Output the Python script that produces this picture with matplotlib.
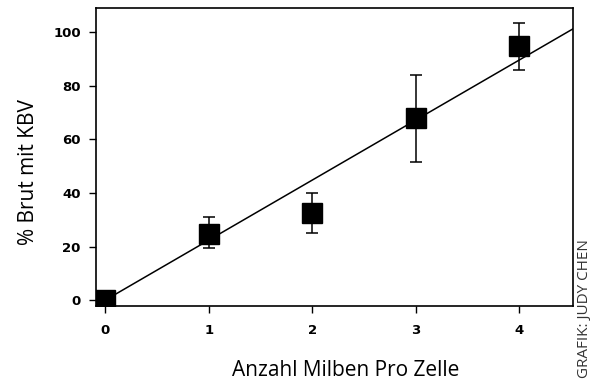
import numpy as np
import matplotlib.pyplot as plt

# Anzahl Milben pro Zelle vs. % Brut mit KBV
milben = [0, 1, 2, 3, 4]
brut = [0, 24.5, 32.5, 68, 95]
err_lo = [0, 5, 7.5, 16.5, 9]
err_hi = [0, 6.5, 7.5, 16, 8.5]
fit_x = [0, 4.52]
fit_slope = 22.4

fig = plt.figure(figsize=(5.94, 3.8), dpi=100)
ax = fig.add_axes([0.1616, 0.1947, 0.803, 0.784])

fx = np.array(fit_x)
ax.plot(fx, fit_slope * fx, color="black", lw=1.1, zorder=2)
ax.errorbar(milben, brut, yerr=[err_lo, err_hi], fmt="s", color="black",
            ms=15, ecolor="black", elinewidth=1.1, capsize=4, capthick=1.1, zorder=3)

ax.set_xlim(-0.09, 4.52)
ax.set_ylim(-2.2, 109)
ax.set_xticks(milben)
ax.set_yticks([0, 20, 40, 60, 80, 100])
ax.tick_params(direction="out", length=5, width=1, labelsize=9.5, pad=6)
ax.tick_params(axis="x", pad=8)
for lab in ax.get_xticklabels() + ax.get_yticklabels():
    lab.set_fontweight("bold")
for s in ax.spines.values():
    s.set_linewidth(1.2)

ax.set_xlabel("Anzahl Milben Pro Zelle", fontsize=15, family="Open Sans")
ax.set_ylabel("% Brut mit KBV", fontsize=15, family="Open Sans")
ax.xaxis.set_label_coords(0.524, -0.18)
ax.yaxis.set_label_coords(-0.12, 0.45)

fig.text(0.997, 0.005, "GRAFIK: JUDY CHEN", rotation=90, fontsize=11,
         color="#333333", ha="right", va="bottom", family="Open Sans")

fig.savefig("out.png", dpi=100)
